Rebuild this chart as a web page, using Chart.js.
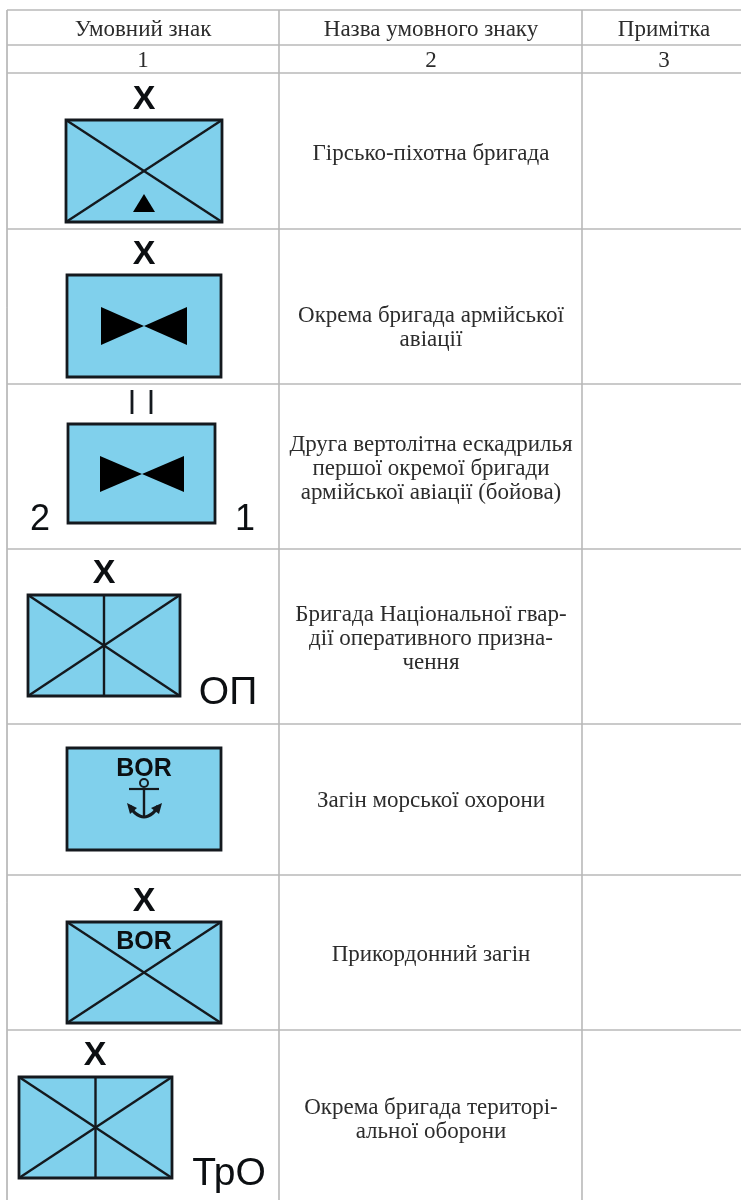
<!DOCTYPE html>
<html lang="uk">
<head>
<meta charset="utf-8">
<title>Умовні знаки</title>
<script src="https://cdn.jsdelivr.net/npm/chart.js@4/dist/chart.umd.min.js"></script>
<style>
  html, body { margin:0; padding:0; background:#fff; }
  canvas { display:block; }
</style>
</head>
<body>
<canvas id="table" width="741" height="1200"></canvas>
<script>
// table texts
const headers = ["Умовний знак", "Назва умовного знаку", "Примітка"];
const columnNumbers = ["1", "2", "3"];
const signNames = [
  ["Гірсько-піхотна бригада"],
  ["Окрема бригада армійської", "авіації"],
  ["Друга вертолітна ескадрилья", "першої окремої бригади", "армійської авіації (бойова)"],
  ["Бригада Національної гвар-", "дії оперативного призна-", "чення"],
  ["Загін морської охорони"],
  ["Прикордонний загін"],
  ["Окрема бригада територі-", "альної оборони"]
];
// table grid, in axis units
const columnEdges = [7, 279, 582];
const rowEdges = [10, 45, 73, 229, 384, 549, 724, 875, 1030];
const nameCentres = [154, 328, 469, 639, 801, 955, 1120];
// sign frames: left, top, right, bottom
const frames = [
  [66, 120, 222, 222],
  [67, 275, 221, 377],
  [68, 424, 215, 523],
  [28, 595, 180, 696],
  [67, 748, 221, 850],
  [67, 922, 221, 1023],
  [19, 1077, 172, 1178]
];
const crossedFrames = [0, 3, 5, 6];
const splitFrames = [3, 6];
// bow ties: centre x, centre y, half width, half height
const bowTies = [[144, 326, 43, 19], [142, 474, 42, 18]];
// letters around the frames: text, x, baseline y, size, bold
const signLetters = [
  ["X", 144, 109, 34, true],
  ["X", 144, 264, 34, true],
  ["2", 40, 530, 36, false],
  ["1", 245, 530, 36, false],
  ["X", 104, 583, 34, true],
  ["ОП", 228, 704, 39, false],
  ["BOR", 144, 776, 25, true],
  ["X", 144, 911, 34, true],
  ["BOR", 144, 949, 25, true],
  ["X", 95, 1065, 34, true],
  ["ТрО", 229, 1185, 39, false]
];

const gridColor = '#b9b9b9';
const inkColor = '#14191e';
const fillColor = '#80d0ec';
const textColor = '#2c2c2c';

const sets = [];
function pts(list){ return list.map(p => ({x:p[0], y:p[1]})); }
function line(list, color, width){
  sets.push({ data:pts(list), showLine:true, fill:false, pointRadius:0, borderColor:color, borderWidth:width, borderCapStyle:'butt' });
}
function shape(list, color, edge, width){
  sets.push({ data:pts(list), showLine:true, fill:'shape', pointRadius:0, backgroundColor:color,
    borderColor:edge || color, borderWidth:width || 0, borderJoinStyle:'miter', borderCapStyle:'square' });
}

// grid
columnEdges.forEach((x,i) => line([[x, rowEdges[0]], [x, 1200]], gridColor, i === 0 ? 1 : 1.6));
rowEdges.forEach(y => line([[columnEdges[0], y], [741, y]], gridColor, 1.3));

// frames and their inner lines
frames.forEach((f,i) => {
  const [l,t,r,b] = f;
  shape([[l,t],[r,t],[r,b],[l,b],[l,t]], fillColor, inkColor, 2.8);
  if(crossedFrames.includes(i)){
    line([[l,t],[r,b]], inkColor, 2.4);
    line([[r,t],[l,b]], inkColor, 2.4);
  }
  if(splitFrames.includes(i)) line([[(l+r)/2,t],[(l+r)/2,b]], inkColor, 2.4);
});

// mountain mark of the first sign
shape([[133,212],[144,194],[155,212],[133,212]], '#000');

bowTies.forEach(b => {
  const [cx,cy,w,h] = b;
  shape([[cx-w,cy-h],[cx,cy],[cx-w,cy+h],[cx-w,cy-h]], '#000');
  shape([[cx+w,cy-h],[cx,cy],[cx+w,cy+h],[cx+w,cy-h]], '#000');
});

// company bars of the third sign
line([[132,390],[132,414]], inkColor, 2.8);
line([[151,390],[151,414]], inkColor, 2.8);

// anchor
line([[144,788],[144,817]], inkColor, 2.4);
line([[129,789],[159,789]], inkColor, 2.2);
sets.push({ data:pts([[130,806],[135,813],[144,817],[153,813],[158,806]]), showLine:true, tension:0.4, fill:false, pointRadius:0, borderColor:inkColor, borderWidth:3.2 });
sets.push({ data:pts([[144,783]]), showLine:false, pointStyle:'circle', pointRadius:4, backgroundColor:'transparent', borderColor:inkColor, borderWidth:2 });
shape([[127,803],[137,808],[130,814],[127,803]], inkColor);
shape([[162,803],[151,808],[159,814],[162,803]], inkColor);

// first dataset is drawn on top, so give later ones a lower order
sets.forEach((s,i) => { s.order = sets.length - i; });

const textPlugin = {
  id:'tableText',
  afterDatasetsDraw(chart){
    const {ctx, scales:{x, y}} = chart;
    const colMid = [143, 431, 664];
    ctx.save();
    ctx.textAlign = 'center';
    ctx.textBaseline = 'middle';
    ctx.fillStyle = textColor;
    ctx.font = '23px "Liberation Serif"';
    headers.forEach((t,i) => ctx.fillText(t, x.getPixelForValue(colMid[i]), y.getPixelForValue(30)));
    columnNumbers.forEach((t,i) => ctx.fillText(t, x.getPixelForValue(colMid[i]), y.getPixelForValue(61)));
    signNames.forEach((lines,i) => {
      const top = nameCentres[i] - (lines.length - 1) * 12;
      lines.forEach((t,k) => ctx.fillText(t, x.getPixelForValue(431), y.getPixelForValue(top + k * 24)));
    });
    ctx.textBaseline = 'alphabetic';
    ctx.fillStyle = '#0c0f12';
    signLetters.forEach(s => {
      ctx.font = (s[4] ? 'bold ' : '') + s[3] + 'px "Liberation Sans"';
      ctx.fillText(s[0], x.getPixelForValue(s[1]), y.getPixelForValue(s[2]));
    });
    ctx.restore();
  }
};

new Chart(document.getElementById('table'), {
  type:'scatter',
  data:{ datasets:sets },
  plugins:[textPlugin],
  options:{
    responsive:false,
    animation:false,
    layout:{ padding:0, autoPadding:false },
    plugins:{ legend:{display:false}, tooltip:{enabled:false} },
    scales:{
      x:{ type:'linear', min:0, max:741, display:false },
      y:{ type:'linear', min:0, max:1200, reverse:true, display:false }
    }
  }
});
</script>
</body>
</html>
